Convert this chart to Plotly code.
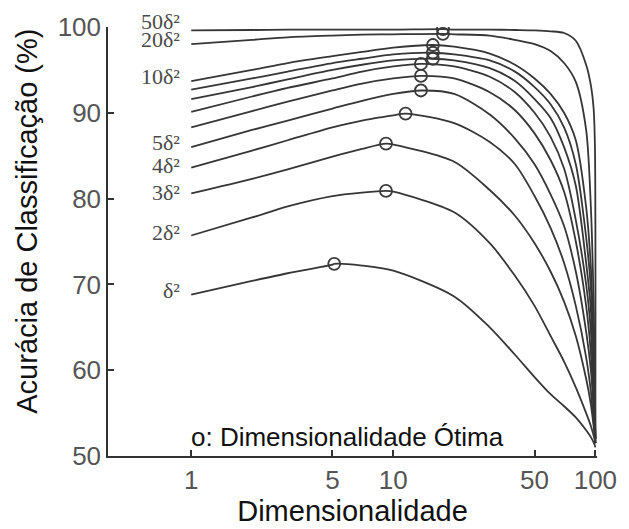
import plotly.graph_objects as go

# Shared dimensionality grid (x values)
DIMS = [1, 2, 3, 5, 7, 10, 20, 30, 40, 50, 60, 70, 80, 90, 95, 98, 99.5, 100]

# Classification accuracy (%) per curve, aligned with DIMS
ACC_1D = [68.8, 70.4, 71.3, 72.3, 72.2, 71.6, 68.6, 65.0, 61.8, 59.2, 57.2, 55.8, 54.5, 53.0, 52.2, 51.6, 51.2, 51.0]
ACC_2D = [75.7, 77.8, 79.1, 80.3, 80.7, 80.8, 78.4, 74.8, 71.0, 67.5, 64.0, 61.0, 58.0, 55.0, 53.5, 52.4, 51.8, 51.5]
ACC_3D = [80.6, 82.3, 83.4, 84.9, 85.8, 86.3, 84.3, 81.0, 78.0, 74.8, 71.5, 68.0, 64.0, 59.0, 56.0, 53.5, 52.2, 51.5]
ACC_4D = [83.6, 85.6, 86.8, 88.3, 89.1, 89.7, 88.8, 86.6, 84.0, 80.3, 76.6, 72.5, 67.5, 61.5, 57.5, 54.0, 52.3, 51.5]
ACC_5D = [86.0, 88.0, 89.1, 90.5, 91.4, 92.2, 92.2, 89.8, 87.0, 84.0, 80.5, 76.8, 71.5, 64.5, 60.0, 55.5, 52.8, 51.5]
ACC_6D = [88.3, 90.2, 91.3, 92.6, 93.4, 94.0, 94.0, 92.4, 90.3, 87.6, 84.5, 80.8, 75.0, 67.5, 62.0, 56.5, 53.0, 51.5]
ACC_7D = [90.1, 91.9, 92.9, 94.0, 94.8, 95.4, 95.4, 94.2, 92.4, 90.0, 87.2, 83.5, 77.5, 70.0, 64.5, 58.0, 53.5, 51.5]
ACC_8D = [91.6, 93.0, 93.9, 95.0, 95.6, 96.1, 96.1, 95.2, 93.7, 91.6, 89.4, 86.0, 81.5, 72.5, 67.0, 59.5, 54.0, 52.0]
ACC_9D = [92.7, 94.0, 94.8, 95.8, 96.3, 96.8, 96.8, 96.1, 94.8, 93.0, 91.0, 88.3, 84.0, 75.5, 69.5, 61.0, 54.5, 52.0]
ACC_10D = [93.7, 95.0, 95.8, 96.6, 97.1, 97.6, 97.7, 96.9, 95.6, 94.0, 92.2, 90.0, 86.8, 79.0, 72.0, 63.0, 55.0, 52.0]
ACC_20D = [98.0, 98.5, 98.8, 99.0, 99.1, 99.15, 99.15, 99.0, 98.5, 98.0, 97.2, 95.8, 93.6, 88.0, 79.0, 68.0, 58.0, 52.0]
ACC_50D = [99.6, 99.65, 99.7, 99.7, 99.7, 99.7, 99.7, 99.7, 99.65, 99.6, 99.5, 99.3, 98.4, 95.6, 93.2, 90.5, 86.0, 52.0]

CURVES = [ACC_1D, ACC_2D, ACC_3D, ACC_4D, ACC_5D, ACC_6D,
          ACC_7D, ACC_8D, ACC_9D, ACC_10D, ACC_20D, ACC_50D]

# Optimal dimensionality (marked with open circles) for each curve
OPT_DIM = [5.1, 9.2, 9.2, 11.5, 13.7, 13.7, 13.7, 15.7, 15.7, 15.7, 17.6, 17.6]
OPT_ACC = [72.4, 80.9, 86.4, 89.9, 92.6, 94.3, 95.7, 96.3, 97.0, 97.9, 99.2, 99.75]

# Curve labels (only some curves are labelled)
LABEL_TEXT = ["δ²", "2δ²", "3δ²", "4δ²", "5δ²", "10δ²", "20δ²", "50δ²"]
LABEL_ACC = [69.3, 76.0, 80.7, 83.9, 86.5, 94.2, 98.5, 100.6]

X_TICKS = [1, 5, 10, 50, 100]
Y_TICKS = [50, 60, 70, 80, 90, 100]
Y_MIN, Y_MAX = 50, 100

LINE_COLOR = "#363636"

fig = go.Figure()
for acc, od, oa in zip(CURVES, OPT_DIM, OPT_ACC):
    pts = sorted(list(zip(DIMS, acc)) + [(od, oa)])
    fig.add_trace(go.Scatter(
        x=[p[0] for p in pts], y=[p[1] for p in pts],
        mode="lines", line=dict(color=LINE_COLOR, width=1.8, shape="spline", smoothing=0.8),
        hoverinfo="skip"))

fig.add_trace(go.Scatter(
    x=OPT_DIM, y=OPT_ACC, mode="markers",
    marker=dict(symbol="circle-open", size=12, color="#3a3a3a",
                line=dict(width=1.8, color="#3a3a3a")),
    hoverinfo="skip"))

annotations = []
for txt, yv in zip(LABEL_TEXT, LABEL_ACC):
    annotations.append(dict(
        x=-0.045, y=(yv - Y_MIN) / (Y_MAX - Y_MIN), xref="x", yref="paper",
        text=txt, showarrow=False, xanchor="right", yanchor="middle",
        font=dict(family="Liberation Serif, Times New Roman, serif", size=22, color="#4a4a4a")))

annotations.append(dict(
    x=-0.01, y=(52.2 - Y_MIN) / (Y_MAX - Y_MIN), xref="x", yref="paper",
    text="o: Dimensionalidade Ótima",
    showarrow=False, xanchor="left", yanchor="middle",
    font=dict(family="Liberation Sans, Arial, sans-serif", size=26, color="#111111")))

# y-axis title placed as rotated text (sits slightly above the plot centre in the original)
annotations.append(dict(
    x=-0.166, y=0.548, xref="paper", yref="paper",
    text="Acurácia de Classificação (%)", textangle=-90,
    showarrow=False, xanchor="center", yanchor="middle",
    font=dict(family="Liberation Sans, Arial, sans-serif", size=29, color="#111111")))

fig.update_layout(
    width=629, height=529,
    margin=dict(l=108, r=27, t=26, b=73),
    paper_bgcolor="white", plot_bgcolor="white",
    showlegend=False,
    annotations=annotations,
    font=dict(family="Liberation Sans, Arial, sans-serif"),
)

fig.update_xaxes(
    type="log", range=[-0.412, 2.008],
    tickvals=X_TICKS, ticktext=[str(v) for v in X_TICKS],
    ticks="inside", ticklen=6, tickwidth=1.5, tickcolor="#333",
    showline=True, linecolor="#333", linewidth=1.5, mirror=False,
    showgrid=False, zeroline=False,
    tickfont=dict(size=26, color="#555555"),
    title=dict(text="Dimensionalidade", font=dict(size=29, color="#111111"), standoff=2),
)
fig.update_yaxes(
    range=[Y_MIN, Y_MAX], tickvals=Y_TICKS, ticktext=[str(v) for v in Y_TICKS],
    ticks="inside", ticklen=6, tickwidth=1.5, tickcolor="#333",
    showline=True, linecolor="#333", linewidth=1.5, mirror=False,
    showgrid=False, zeroline=False,
    tickfont=dict(size=26, color="#555555"),
)

fig.write_html("out.html", config={"displayModeBar": False},
               post_script="document.body.style.margin='0px';")
